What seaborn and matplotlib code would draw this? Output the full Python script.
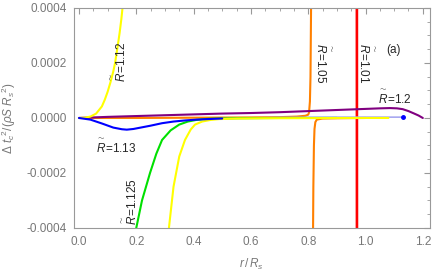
import numpy as np
import matplotlib
matplotlib.use("Agg")
import matplotlib.pyplot as plt
import seaborn as sns
from matplotlib.ticker import MultipleLocator, FormatStrFormatter

# curve data (r / R_s, Delta t_c^2 / (rho S R_s^2))
yellow_up_r = [0.0, 0.02, 0.04, 0.06, 0.08, 0.09, 0.10, 0.11, 0.12, 0.126, 0.135, 0.142, 0.148, 0.153, 0.158]
yellow_up_v = [0.0, 0.000001, 0.000005, 0.000016, 0.000042, 0.000066, 0.000095, 0.00013, 0.00017, 0.0002, 0.00026, 0.00031, 0.00036, 0.00041, 0.00046]

yellow_lo_r = [0.305, 0.314, 0.33, 0.35, 0.37, 0.39, 0.405, 0.43, 0.46, 0.49, 0.55, 0.65, 0.8, 0.95, 1.08]
yellow_lo_v = [-0.00046, -0.0004, -0.00025, -0.00014, -0.00008, -0.000042, -0.000024, -0.000013, -0.000007, -0.000004, -0.000002, -0.000001, -0.0000005, 0.0, 0.0]

green_r = [0.19, 0.20, 0.22, 0.248, 0.27, 0.29, 0.32, 0.35, 0.38, 0.41, 0.45, 0.55, 0.7, 0.9]
green_v = [-0.00047, -0.0004, -0.0003, -0.0002, -0.00013, -0.00008, -0.000045, -0.000024, -0.000013, -0.000007, -0.000003, -0.000001, 0.0, 0.0]

blue_r = [0.0, 0.04, 0.08, 0.12, 0.15, 0.167, 0.19, 0.22, 0.25, 0.29, 0.33, 0.37, 0.41, 0.45, 0.5]
blue_v = [0.0, -0.000006, -0.00002, -0.000035, -0.000041, -0.0000425, -0.00004, -0.000034, -0.000028, -0.000019, -0.000013, -0.000009, -0.000006, -0.000004, -0.000002]
blue_tail_r = [0.5, 0.7, 0.9, 1.13]
blue_tail_v = [-0.000002, 0.000002, 0.000003, 0.000003]

orange_l_r = [0.0, 0.2, 0.4, 0.6, 0.7, 0.76, 0.79, 0.80, 0.803, 0.806, 0.808, 0.810, 0.812]
orange_l_v = [0.0, 0.0, 0.000001, 0.000002, 0.000003, 0.000005, 0.000008, 0.000012, 0.00002, 0.00006, 0.00015, 0.0004, 0.0008]
orange_r_r = [0.816, 0.817, 0.818, 0.82, 0.822, 0.825, 0.83, 0.85, 0.9, 1.0]
orange_r_v = [-0.0008, -0.0004, -0.00025, -0.0001, -0.00004, -0.000015, -0.000006, -0.000002, -0.000001, 0.0]

red_r = [0.9698, 0.9702]
red_v = [0.0008, -0.0008]

purple_r = [0.0, 0.1, 0.2, 0.3, 0.4, 0.5, 0.6, 0.7, 0.8, 0.9, 1.0, 1.05, 1.085, 1.11, 1.13, 1.15, 1.17, 1.185, 1.195, 1.2]
purple_v = [0.0, 0.000004, 0.000007, 0.00001, 0.000013, 0.000016, 0.000018, 0.000021, 0.000025, 0.000029, 0.000033, 0.000035, 0.000036, 0.000035, 0.000032, 0.000025, 0.000016, 0.000009, 0.000003, 0.0]

sns.set_style("white")
plt.rcParams["font.family"] = ["Liberation Sans", "DejaVu Sans"]
plt.rcParams["mathtext.fontset"] = "custom"
plt.rcParams["mathtext.rm"] = "Liberation Sans"
plt.rcParams["mathtext.it"] = "Liberation Sans:italic"

fig = plt.figure(figsize=(4.36, 2.75), dpi=100)
ax = fig.add_axes([0.1686, 0.171, 0.8176, 0.800])

lw = 1.5
kw = dict(ax=ax, sort=False, estimator=None, legend=False)
sns.lineplot(x=red_r, y=red_v, color="#ff0000", linewidth=1.9, **kw)
sns.lineplot(x=orange_l_r, y=orange_l_v, color="#ff8000", linewidth=lw, **kw)
sns.lineplot(x=orange_r_r, y=orange_r_v, color="#ff8000", linewidth=lw, **kw)
sns.lineplot(x=purple_r, y=purple_v, color="#800080", linewidth=lw, **kw)
sns.lineplot(x=blue_tail_r, y=blue_tail_v, color="#a8a8f0", linewidth=1.2, **kw)
ax.plot(blue_tail_r[-1:], blue_tail_v[-1:], "o", color="#0000ff", markersize=2.5)
sns.lineplot(x=green_r, y=green_v, color="#00e000", linewidth=lw, **kw)
sns.lineplot(x=yellow_lo_r, y=yellow_lo_v, color="#ffff00", linewidth=lw, **kw)
sns.lineplot(x=yellow_up_r, y=yellow_up_v, color="#ffff00", linewidth=lw, **kw)
sns.lineplot(x=blue_r, y=blue_v, color="#0000ff", linewidth=lw, **kw)

ax.set_xlim(-0.019, 1.225)
ax.set_ylim(-0.0004, 0.0004)

gray = "#777777"
for s in ax.spines.values():
    s.set_color("#999999")
    s.set_linewidth(0.8)
ax.xaxis.set_major_locator(MultipleLocator(0.2))
ax.xaxis.set_minor_locator(MultipleLocator(0.05))
ax.yaxis.set_major_locator(MultipleLocator(0.0002))
ax.yaxis.set_minor_locator(MultipleLocator(0.00005))
ax.xaxis.set_major_formatter(FormatStrFormatter("%.1f"))
ax.yaxis.set_major_formatter(FormatStrFormatter("%.4f"))
ax.tick_params(which="both", direction="in", top=True, right=True, color="#999999",
               labelcolor=gray, labelsize=8.5)
ax.tick_params(which="major", length=4, width=0.8)
ax.tick_params(which="minor", length=2, width=0.6)
ax.tick_params(axis="x", pad=6)
ax.tick_params(axis="y", pad=5)

ax.set_xlabel(r"$r\,/\,R_s$", color=gray, fontsize=8.5, labelpad=6)
ax.set_ylabel(r"$\Delta\ t_c{}^2/(\rho S\ R_s{}^2)$", color=gray, fontsize=8.5, labelpad=6)

fs = 8.5
lab = dict(ha="center", va="center", fontsize=fs)
rt = r"$\overset{\sim}{R}$"
ax.text(0.143, 0.000205, rt + "=1.12", rotation=90, **lab)
ax.text(0.848, 0.0002, rt + "=1.05", rotation=270, **lab)
ax.text(0.998, 0.0002, rt + "=1.01", rotation=270, **lab)
ax.text(1.096, 0.000247, "(a)", ha="center", va="center", fontsize=fs)
ax.text(1.103, 0.000073, rt + "=1.2", **lab)
ax.text(0.129, -0.000106, rt + "=1.13", **lab)
ax.text(0.182, -0.000305, rt + "=1.125", rotation=90, **lab)

fig.savefig("out.png", dpi=100)
